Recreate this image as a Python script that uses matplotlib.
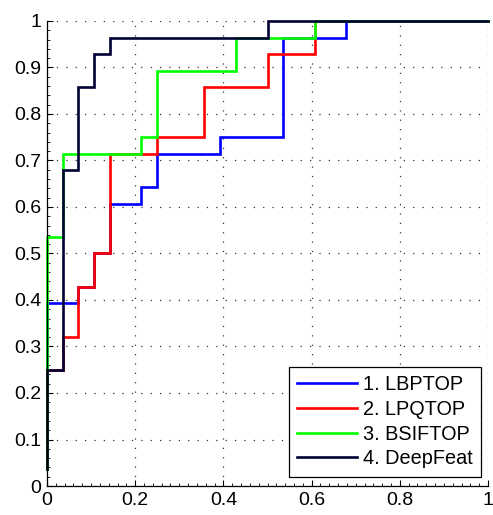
import numpy as np
import matplotlib
matplotlib.use("Agg")
import matplotlib.pyplot as plt
from matplotlib.ticker import MultipleLocator

plt.rcParams["font.family"] = ["Liberation Sans", "DejaVu Sans"]

# ROC curves (false positive rate, true positive rate), drawn as post-steps
LBP_FPR = [0, 0, 0.0714, 0.1071, 0.1429, 0.2143, 0.25, 0.3929, 0.5357, 0.6786, 1]
LBP_TPR = [0.0357, 0.3929, 0.4286, 0.5, 0.6071, 0.6429, 0.7143, 0.75, 0.9643, 1, 1]

LPQ_FPR = [0, 0, 0.0357, 0.0714, 0.1071, 0.1429, 0.25, 0.3571, 0.5, 0.6071, 1]
LPQ_TPR = [0.0357, 0.25, 0.3214, 0.4286, 0.5, 0.7143, 0.75, 0.8571, 0.9286, 1, 1]

BSIF_FPR = [0, 0, 0.0357, 0.2143, 0.25, 0.4286, 0.6071, 1]
BSIF_TPR = [0.0357, 0.5357, 0.7143, 0.75, 0.8929, 0.9643, 1, 1]

DEEP_FPR = [0, 0, 0.0357, 0.0714, 0.1071, 0.1429, 0.5, 1]
DEEP_TPR = [0.0357, 0.25, 0.6786, 0.8571, 0.9286, 0.9643, 1, 1]

SERIES = [
    ("1. LBPTOP", LBP_FPR, LBP_TPR, "#0000FF"),
    ("2. LPQTOP", LPQ_FPR, LPQ_TPR, "#FF0000"),
    ("3. BSIFTOP", BSIF_FPR, BSIF_TPR, "#00FF00"),
    ("4. DeepFeat", DEEP_FPR, DEEP_TPR, "#000033"),
]

fig = plt.figure(figsize=(4.93, 5.15), dpi=100)
ax = fig.add_axes([0.0953, 0.0563, 0.8946, 0.903])

for label, fpr, tpr, color in SERIES:
    ax.plot(fpr, tpr, drawstyle="steps-post", color=color, lw=1.9,
            label=label, solid_joinstyle="miter", clip_on=False)

ax.set_xlim(0, 1)
ax.set_ylim(0, 1)
ax.xaxis.set_major_locator(MultipleLocator(0.2))
ax.yaxis.set_major_locator(MultipleLocator(0.1))
ax.xaxis.set_minor_locator(MultipleLocator(0.02))
ax.yaxis.set_minor_locator(MultipleLocator(0.02))
ax.xaxis.set_major_formatter(lambda v, p: f"{v:g}")
ax.yaxis.set_major_formatter(lambda v, p: f"{v:g}")

ax.tick_params(which="both", direction="in", colors="black", labelsize=14)
ax.tick_params(which="major", length=4, width=0.8, pad=4)
ax.tick_params(which="minor", length=2, width=0.6)

ax.grid(True, which="major", linestyle=(0, (1, 6.5)), color="#333333", linewidth=0.9)
ax.set_axisbelow(True)
for side in ("top", "right"):
    ax.spines[side].set_visible(False)
for side in ("left", "bottom"):
    ax.spines[side].set_linewidth(0.9)

leg = ax.legend(loc="lower right", bbox_to_anchor=(0.9834, 0.020), fontsize=14.3,
                fancybox=False, framealpha=1, edgecolor="black", borderpad=0.42,
                handlelength=3.0, handletextpad=0.28, labelspacing=0.29,
                borderaxespad=0)
leg.get_frame().set_linewidth(0.9)

fig.savefig("out.png", dpi=100)
